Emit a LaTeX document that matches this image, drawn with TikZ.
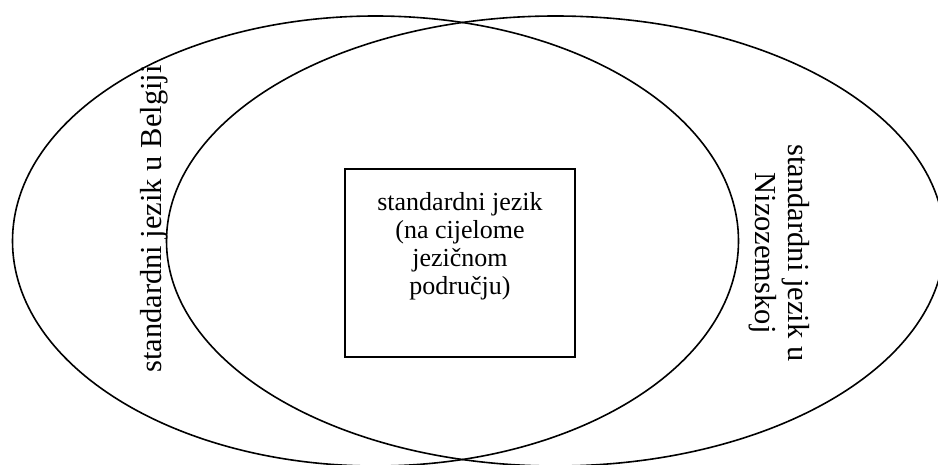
\documentclass[tikz,border=0pt]{standalone}
\usepackage{fontspec}
\setmainfont{Liberation Serif}
\begin{document}
\begin{tikzpicture}[x=1pt,y=1pt,
  ring/.style={draw=black,line width=1.6pt},
  boxstyle/.style={draw=black,line width=1.6pt,minimum width=230pt,minimum height=188pt,inner sep=0pt},
  boxtext/.style={align=center,font=\fontsize{26}{28}\selectfont,inner sep=0pt},
  sidetext/.style={align=center,font=\fontsize{30.5}{33}\selectfont,inner sep=0pt}]
\useasboundingbox (0,0) rectangle (938,-465);
\draw[ring] (375.5,-241) ellipse [x radius=363, y radius=225];
\draw[ring] (555.5,-241) ellipse [x radius=389, y radius=225];
\node[boxstyle] (box) at (460,-263) {};
\node[boxtext,anchor=north] (boxlbl) at ([yshift=-24pt]box.north) {standardni jezik\\(na cijelome\\jezičnom\\području)};
\node[sidetext,rotate=90] (belgija) at (154,-219) {standardni jezik u Belgiji};
\node[sidetext,rotate=-90] (nizozemska) at (779,-253) {standardni jezik u\\Nizozemskoj};
\end{tikzpicture}
\end{document}
